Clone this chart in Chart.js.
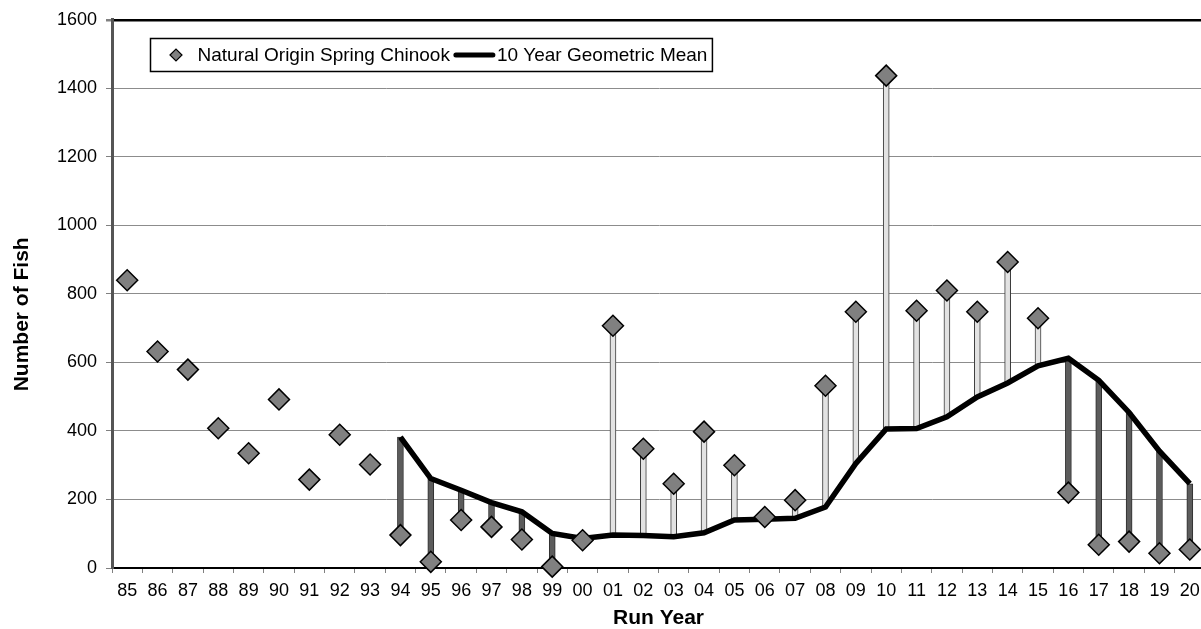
<!DOCTYPE html>
<html>
<head>
<meta charset="utf-8">
<script src="https://cdn.jsdelivr.net/npm/chart.js@4.4.1/dist/chart.umd.min.js"></script>
<style>
    html, body { margin: 0; padding: 0; background: #fff; overflow: hidden; }
    canvas { display: block; }
</style>
</head>
<body>
<canvas id="fish-chart" width="1205" height="629"></canvas>
<script>
const runYears = ['85', '86', '87', '88', '89', '90', '91', '92', '93', '94', '95', '96',
    '97', '98', '99', '00', '01', '02', '03', '04', '05', '06', '07', '08', '09', '10',
    '11', '12', '13', '14', '15', '16', '17', '18', '19', '20'];

const naturalOrigin = [840, 632, 579, 408, 335, 492, 258, 389, 302, 96, 18, 140,
    120, 83, 4, 81, 707, 348, 246, 398, 300, 149, 198, 532, 748, 1437,
    751, 810, 748, 893, 729, 220, 68, 77, 43, 54];

const geoMean = [null, null, null, null, null, null, null, null, null, 382, 261, 227,
    191, 164, 101, 86, 96, 95, 91, 103, 140, 142, 145, 178, 305, 406,
    407, 441, 499, 540, 590, 612, 548, 454, 341, 246];

const yTicks = [0, 200, 400, 600, 800, 1000, 1200, 1400, 1600];

const FONT = "'Liberation Sans', Arial, sans-serif";

// high-low bars between the count and the 10 year mean
const dropBars = runYears.map((y, i) => geoMean[i] == null ? null : [geoMean[i], naturalOrigin[i]]);
const barFill = runYears.map((y, i) => naturalOrigin[i] >= geoMean[i] ? '#e2e2e2' : '#5c5c5c');
const barEdge = runYears.map((y, i) => naturalOrigin[i] >= geoMean[i] ? '#3a3a3a' : '#2e2e2e');

const legendBox = {
    id: 'legendBox',
    afterDraw(chart) {
        const ctx = chart.ctx;
        const sets = chart.data.datasets;
        const left = 150.5, top = 38.5, h = 33;
        const midY = top + h / 2;
        ctx.save();
        ctx.font = `19px ${FONT}`;
        const w1 = ctx.measureText(sets[0].label).width;
        const w2 = ctx.measureText(sets[1].label).width;
        const text1X = left + 47;
        const lineX1 = text1X + w1 + 4;
        const lineX2 = lineX1 + 41;
        const text2X = lineX2 + 2;
        const right = text2X + w2 + 5;

        ctx.fillStyle = '#fff';
        ctx.fillRect(left, top, right - left, h);
        ctx.strokeStyle = '#000';
        ctx.lineWidth = 1.5;
        ctx.strokeRect(left, top, right - left, h);

        // diamond marker
        const dx = left + 25.5, r = 6;
        ctx.beginPath();
        ctx.moveTo(dx - r, midY);
        ctx.lineTo(dx, midY - r);
        ctx.lineTo(dx + r, midY);
        ctx.lineTo(dx, midY + r);
        ctx.closePath();
        ctx.fillStyle = '#808080';
        ctx.fill();
        ctx.lineWidth = 1.2;
        ctx.stroke();

        ctx.fillStyle = '#000';
        ctx.textBaseline = 'middle';
        ctx.textAlign = 'left';
        ctx.fillText(sets[0].label, text1X, midY + 1);

        ctx.beginPath();
        ctx.moveTo(lineX1 + 2, midY);
        ctx.lineTo(lineX2 - 2, midY);
        ctx.lineWidth = 5;
        ctx.lineCap = 'round';
        ctx.stroke();

        ctx.fillText(sets[1].label, text2X, midY + 1);
        ctx.restore();
    }
};

new Chart(document.getElementById('fish-chart'), {
    type: 'bar',
    data: {
        labels: runYears,
        datasets: [
            {
                type: 'line',
                label: 'Natural Origin Spring Chinook',
                data: naturalOrigin,
                showLine: false,
                pointStyle: 'rectRot',
                pointRadius: 10.5,
                pointBackgroundColor: '#808080',
                pointBorderColor: '#000',
                pointBorderWidth: 1.5,
                clip: false,
                order: 0
            },
            {
                type: 'line',
                label: '10 Year Geometric Mean',
                data: geoMean,
                borderColor: '#000',
                borderWidth: 5.5,
                pointRadius: 0,
                tension: 0,
                spanGaps: false,
                order: 1
            },
            {
                type: 'bar',
                label: 'range',
                data: dropBars,
                backgroundColor: barFill,
                borderColor: barEdge,
                borderWidth: 1,
                borderSkipped: false,
                barThickness: 6,
                order: 2
            }
        ]
    },
    options: {
        responsive: false,
        animation: false,
        devicePixelRatio: 1,
        layout: { autoPadding: false, padding: { top: 19, left: 0, right: 0, bottom: 0 } },
        plugins: {
            legend: { display: false },
            tooltip: { enabled: false }
        },
        scales: {
            x: {
                offset: true,
                afterFit: (scale) => {
                    scale.height = 61;
                    scale.paddingLeft = 0;
                    scale.paddingRight = 0;
                },
                grid: {
                    offset: true,
                    drawOnChartArea: false,
                    drawTicks: true,
                    tickLength: 5,
                    color: '#808080'
                },
                border: { display: true, color: '#000', width: 2 },
                ticks: {
                    color: '#000',
                    padding: 7,
                    maxRotation: 0,
                    autoSkip: false,
                    font: { family: FONT, size: 18 }
                },
                title: {
                    display: true,
                    text: 'Run Year',
                    color: '#000',
                    padding: { top: 0, bottom: 0 },
                    font: { family: FONT, size: 21, weight: 'bold', lineHeight: 1 }
                }
            },
            y: {
                min: 0,
                max: 1600,
                afterFit: (scale) => { scale.width = 112; },
                afterBuildTicks: (scale) => { scale.ticks = yTicks.map(v => ({ value: v })); },
                grid: {
                    color: (c) => c.tick && c.tick.value === 1600 ? '#000' : '#8c8c8c',
                    lineWidth: (c) => c.tick && c.tick.value === 1600 ? 2.5 : 1,
                    tickColor: '#808080',
                    tickLength: 6
                },
                border: { display: true, color: '#555', width: 3 },
                ticks: {
                    color: '#000',
                    padding: 9,
                    font: { family: FONT, size: 18 },
                    callback: (v) => String(v)
                },
                title: {
                    display: true,
                    // trailing spaces push the label a little below the axis centre, as in the original
                    text: 'Number of Fish       ',
                    color: '#000',
                    padding: { top: 10, bottom: 0 },
                    font: { family: FONT, size: 21, weight: 'bold' }
                }
            }
        }
    },
    plugins: [legendBox]
});
</script>
</body>
</html>
